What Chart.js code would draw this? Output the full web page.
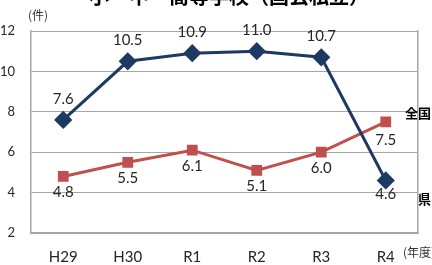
<!DOCTYPE html>
<html>
<head>
<meta charset="utf-8">
<script src="https://cdn.jsdelivr.net/npm/chart.js@4"></script>
<style>
  body { margin: 0; background: #fff; }
  #wrap { width: 432px; height: 265px; }
</style>
</head>
<body>
<div id="wrap"><canvas id="chart" width="432" height="265"></canvas></div>
<script>
const years = ['H29', 'H30', 'R1', 'R2', 'R3', 'R4'];
const kenValues = [7.6, 10.5, 10.9, 11.0, 10.7, 4.6];
const zenkokuValues = [4.8, 5.5, 6.1, 5.1, 6.0, 7.5];
const yTicks = [2, 4, 6, 8, 10, 12];

const blue = '#1f3a62';
const red = '#c0504d';
const jpFont = '"Noto Sans CJK JP", sans-serif';

// value labels: blue above points, red below (last blue below too)
const valueLabels = {
  id: 'valueLabels',
  afterDatasetsDraw(chart) {
    const ctx = chart.ctx;
    ctx.save();
    ctx.font = '15px Lato, sans-serif';
    ctx.fillStyle = '#262626';
    ctx.textAlign = 'center';
    ctx.textBaseline = 'middle';
    chart.data.datasets.forEach((ds, i) => {
      const meta = chart.getDatasetMeta(i);
      meta.data.forEach((pt, j) => {
        let dy = i === 0 ? -21 : 16;
        if (i === 0 && j === ds.data.length - 1) dy = 14;
        if (i === 1 && j === ds.data.length - 1) dy = 18;
        ctx.fillText(ds.data[j].toFixed(1), pt.x, pt.y + dy);
      });
    });
    ctx.restore();
  }
};

const extraText = {
  id: 'extraText',
  afterDraw(chart) {
    const ctx = chart.ctx;
    ctx.save();
    ctx.fillStyle = '#000';
    ctx.textAlign = 'center';
    ctx.textBaseline = 'middle';
    ctx.font = 'bold 20px ' + jpFont;
    ctx.fillText('小・中・高等学校（国公私立）', 229, -4);
    ctx.font = '12px ' + jpFont;
    ctx.fillStyle = '#333';
    ctx.fillText('(件)', 38, 15);
    ctx.textAlign = 'left';
    ctx.fillText('(年度)', 403, 252);
    ctx.font = 'bold 13px ' + jpFont;
    ctx.fillStyle = '#000';
    ctx.fillText('全国', 405, 113);
    ctx.fillText('県', 418, 199);
    ctx.restore();
  }
};

new Chart(document.getElementById('chart'), {
  type: 'line',
  data: {
    labels: years,
    datasets: [{
      label: '県',
      data: kenValues,
      borderColor: blue,
      backgroundColor: blue,
      borderWidth: 3,
      pointStyle: 'rectRot',
      pointRadius: 7,
      pointHoverRadius: 7,
      tension: 0
    }, {
      label: '全国',
      data: zenkokuValues,
      borderColor: red,
      backgroundColor: red,
      borderWidth: 3,
      pointStyle: 'rect',
      pointRadius: 5.5,
      pointHoverRadius: 5.5,
      tension: 0
    }]
  },
  options: {
    responsive: false,
    animation: false,
    layout: { padding: { top: 31, right: 14, left: 0, bottom: 0 } },
    plugins: {
      legend: { display: false },
      tooltip: { enabled: false }
    },
    scales: {
      x: {
        offset: true,
        grid: { display: false, drawTicks: false },
        border: { color: '#a6a6a6', width: 1.5 },
        ticks: { color: '#262626', font: { family: 'Lato', size: 15 }, padding: 15 },
        afterFit(scale) { scale.height = 32; }
      },
      y: {
        min: 2,
        max: 12,
        afterBuildTicks(scale) { scale.ticks = yTicks.map(v => ({ value: v })); },
        grid: { color: '#a6a6a6', lineWidth: 1, drawTicks: false },
        border: { color: '#a6a6a6', width: 1.5 },
        ticks: { color: '#262626', font: { family: 'Lato', size: 13 }, padding: 16 },
        afterFit(scale) { scale.width = 31; }
      },
      y2: {
        position: 'right',
        min: 2,
        max: 12,
        grid: { display: false, drawTicks: false },
        border: { color: '#a6a6a6', width: 1.5 },
        ticks: { display: false },
        afterFit(scale) { scale.width = 0; }
      }
    }
  },
  plugins: [valueLabels, extraText]
});
</script>
</body>
</html>
